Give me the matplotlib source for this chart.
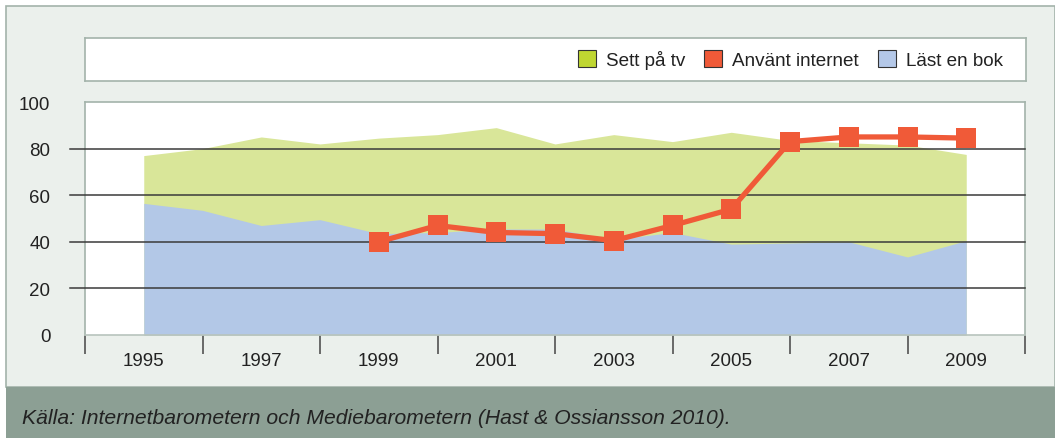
import matplotlib
matplotlib.use("Agg")
import matplotlib.pyplot as plt
from matplotlib.patches import Rectangle, Patch

years = [1995, 1996, 1997, 1998, 1999, 2000, 2001, 2002, 2003, 2004, 2005, 2006, 2007, 2008, 2009]
tv = [77, 80, 85, 82, 84.5, 86, 89, 82, 86, 83, 87, 83.5, 82.5, 81.5, 77.5]
bok = [56.5, 53.5, 47, 49.5, 43.5, 44, 45.5, 45.5, 41, 44, 39, 39.5, 40, 33.5, 40.5]
net_years = [1999, 2000, 2001, 2002, 2003, 2004, 2005, 2006, 2007, 2008, 2009]
net = [40, 47, 44, 43.5, 40.5, 47, 54, 83, 85, 85, 84.5]
label_years = [1995, 1997, 1999, 2001, 2003, 2005, 2007, 2009]
tick_years = [1994, 1996, 1998, 2000, 2002, 2004, 2006, 2008, 2010]
yticks = [0, 20, 40, 60, 80, 100]
series_names = ["Sett på tv", "Använt internet", "Läst en bok"]
source = "Källa: Internetbarometern och Mediebarometern (Hast & Ossiansson 2010)."

W, H = 1055, 439
plt.rcParams['font.family'] = ['Liberation Sans', 'DejaVu Sans']
fig = plt.figure(figsize=(W / 100, H / 100), dpi=100)
fig.patch.set_facecolor("white")

def fx(px):
    return px / W

def fy(py):
    return 1 - py / H

# background axes in pixel coordinates
bg = fig.add_axes([0, 0, 1, 1], zorder=-10)
bg.set_xlim(0, W); bg.set_ylim(H, 0); bg.axis("off")
bg.add_patch(Rectangle((6, 7), W - 6, 388 - 7, facecolor="#EBF0EC",
                       edgecolor="#A3B3AA", lw=1.2))
bg.add_patch(Rectangle((6, 388), W - 6, H - 388, facecolor="#8C9F94", edgecolor="none"))
bg.text(22, 419, source, fontsize=15.2, style="italic", color="#222222",
        va="center", ha="left")

# legend box
lax = fig.add_axes([fx(85), fy(82), fx(1026 - 85), (82 - 39) / H])
lax.set_xticks([]); lax.set_yticks([])
lax.set_facecolor("white")
for s in lax.spines.values():
    s.set_color("#A3B3AA"); s.set_linewidth(1.2)
handles = [Patch(facecolor="#BFD631", edgecolor="#333333", lw=0.8),
           Patch(facecolor="#F05A38", edgecolor="#333333", lw=0.8),
           Patch(facecolor="#B4C8E8", edgecolor="#333333", lw=0.8)]
lax.legend(handles, series_names, loc="center right", frameon=False, ncol=3,
           fontsize=13.6, handlelength=0.95, handleheight=0.95, handletextpad=0.55,
           columnspacing=1.0, borderaxespad=0.8, labelcolor="#222222")

# main plot
ax = fig.add_axes([fx(85), fy(336), fx(1025 - 85), (336 - 103) / H])
ax.set_facecolor("white")
ax.fill_between(years, 0, tv, color="#D9E699", lw=0, zorder=1)
ax.fill_between(years, 0, bok, color="#B3C8E7", lw=0, zorder=2)
for v in [20, 40, 60, 80]:
    ax.axhline(v, color="#3A3A3A", lw=1.1, zorder=3, clip_on=False, xmin=-15 / 940)
ax.plot(net_years, net, color="#F05A38", lw=3.8, marker="s", markersize=14,
        markeredgewidth=0, zorder=5)
ax.set_xlim(1994, 2010)
ax.set_ylim(0, 100)
ax.set_yticks(yticks)
ax.set_yticklabels([str(v) for v in yticks], fontsize=13.5, color="#222222")
ax.tick_params(axis="y", length=0, pad=25)
ax.set_xticks(tick_years)
ax.set_xticklabels([])
ax.set_xticks(label_years, minor=True)
ax.set_xticklabels([str(v) for v in label_years], minor=True, fontsize=13.5, color="#222222")
ax.tick_params(axis="x", which="major", length=14, width=1.1, color="#444444", direction="out")
ax.tick_params(axis="x", which="minor", length=0, pad=12)
for k in ["top", "right", "left"]:
    ax.spines[k].set_color("#A3B3AA"); ax.spines[k].set_linewidth(1.2)
ax.spines["bottom"].set_color("#B8C4BD"); ax.spines["bottom"].set_linewidth(1.2)

fig.savefig("out.png", dpi=100)
